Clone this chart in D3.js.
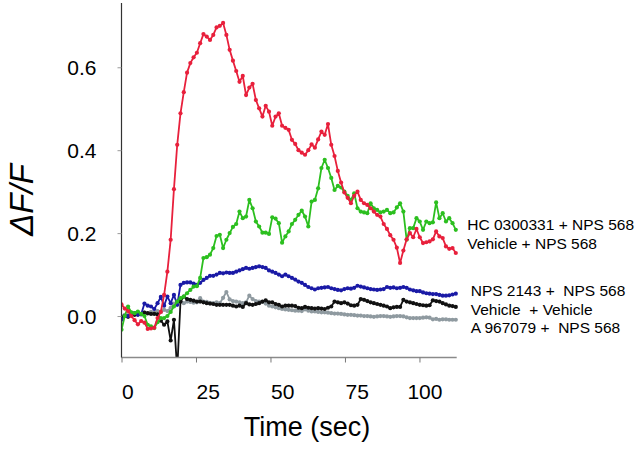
<!DOCTYPE html>
<html>
<head>
<meta charset="utf-8">
<script src="https://cdn.jsdelivr.net/npm/d3@7"></script>
<style>
  html, body { margin: 0; padding: 0; background: #fff; }
  svg { display: block; font-family: "Liberation Sans", Arial, sans-serif; }
  text { white-space: pre; }
</style>
</head>
<body>
<svg id="chart" width="640" height="450"></svg>
<script>
// ---- data ----
const sampleInterval = 1.1; // seconds between samples
const xTicks = [0, 25, 50, 75, 100];
const yTicks = [0.0, 0.2, 0.4, 0.6];
const yTickLabels = ["0.0", "0.2", "0.4", "0.6"];

const seriesNames = ["A 967079 +  NPS 568", "Vehicle  + Vehicle", "NPS 2143 +  NPS 568", "HC 0300331 + NPS 568", "Vehicle + NPS 568"];

const grayValues = [0.0,0.003,0.002,0.005,0.004,0.006,0.005,0.008,0.006,0.01,0.008,0.012,0.01,0.015,0.012,0.02,0.03,0.035,0.035,0.031,
0.035,0.034,0.032,0.033,0.043,0.035,0.034,0.032,0.031,0.033,0.031,0.044,0.058,0.04,0.036,0.035,0.033,0.031,0.033,0.049,
0.041,0.036,0.035,0.034,0.03,0.025,0.023,0.021,0.019,0.017,0.016,0.015,0.014,0.013,0.013,0.012,0.016,0.013,0.011,0.011,
0.01,0.009,0.009,0.008,0.007,0.006,0.006,0.005,0.004,0.003,0.003,0.002,0.001,0.001,0.0,0.0,-0.001,-0.002,-0.001,0.0,
0.0,-0.001,-0.002,-0.001,0.0,0.0,-0.001,-0.003,-0.005,-0.005,-0.005,-0.005,-0.004,-0.003,-0.004,-0.008,-0.007,-0.009,-0.008,-0.008,
-0.009,-0.009,-0.009];

const blackValues = [-0.003,0.0,-0.002,0.002,0.003,0.004,0.005,0.008,0.007,0.005,0.005,0.004,-0.011,-0.021,-0.013,-0.059,-0.009,-0.13,0.035,0.047,
0.041,0.039,0.037,0.035,0.035,0.033,0.031,0.03,0.029,0.027,0.027,0.027,0.027,0.027,0.025,0.023,0.025,0.022,0.031,0.028,
0.027,0.029,0.031,0.035,0.038,0.033,0.033,0.029,0.027,0.023,0.025,0.025,0.025,0.024,0.02,0.019,0.022,0.02,0.019,0.018,
0.019,0.018,0.017,0.02,0.023,0.035,0.033,0.031,0.033,0.03,0.026,0.025,0.027,0.041,0.039,0.036,0.033,0.031,0.029,0.027,
0.025,0.023,0.019,0.021,0.022,0.022,0.039,0.035,0.033,0.031,0.029,0.027,0.026,0.025,0.026,0.038,0.036,0.035,0.031,0.028,
0.025,0.024,0.022];

const blueValues = [-0.009,0.0,0.0,0.005,0.007,0.003,0.004,0.03,0.025,0.023,0.017,0.031,0.046,0.025,0.047,0.031,0.051,0.027,0.075,0.08,
0.081,0.081,0.078,0.075,0.08,0.087,0.092,0.097,0.097,0.1,0.104,0.103,0.105,0.104,0.104,0.107,0.11,0.113,0.116,0.114,
0.116,0.118,0.12,0.118,0.116,0.11,0.107,0.104,0.1,0.096,0.1,0.096,0.092,0.088,0.083,0.08,0.075,0.07,0.067,0.064,
0.067,0.068,0.069,0.07,0.067,0.065,0.063,0.062,0.065,0.067,0.066,0.068,0.073,0.071,0.069,0.067,0.065,0.064,0.063,0.064,
0.065,0.07,0.068,0.069,0.067,0.068,0.07,0.068,0.064,0.062,0.06,0.06,0.057,0.055,0.054,0.053,0.053,0.051,0.049,0.049,
0.05,0.052,0.054];

const greenValues = [-0.033,0.0,0.023,0.009,0.007,0.011,0.005,0.0,-0.021,-0.025,-0.029,-0.015,-0.005,-0.005,0.0,0.01,0.023,0.035,0.043,0.047,
0.055,0.063,0.071,0.072,0.092,0.14,0.142,0.148,0.164,0.193,0.196,0.164,0.184,0.2,0.215,0.222,0.252,0.236,0.24,0.28,
0.26,0.228,0.216,0.201,0.201,0.198,0.238,0.235,0.224,0.177,0.192,0.204,0.222,0.232,0.244,0.254,0.24,0.216,0.276,0.28,
0.308,0.357,0.377,0.357,0.333,0.304,0.314,0.31,0.3,0.29,0.28,0.296,0.26,0.252,0.25,0.248,0.272,0.26,0.256,0.25,
0.252,0.256,0.248,0.25,0.262,0.272,0.252,0.184,0.212,0.212,0.236,0.228,0.208,0.228,0.224,0.226,0.274,0.236,0.248,0.228,
0.236,0.224,0.208];

const redValues = [0.028,0.018,0.012,0.0,-0.01,-0.02,-0.012,-0.016,-0.031,-0.03,-0.028,-0.005,0.01,0.051,0.107,0.184,0.306,0.413,0.489,0.54,
0.587,0.61,0.624,0.635,0.658,0.68,0.674,0.666,0.678,0.696,0.7,0.707,0.678,0.642,0.616,0.591,0.565,0.579,0.533,0.551,
0.56,0.521,0.501,0.481,0.507,0.493,0.459,0.481,0.489,0.459,0.454,0.449,0.425,0.415,0.4,0.394,0.389,0.4,0.414,0.406,
0.426,0.445,0.437,0.463,0.413,0.386,0.35,0.322,0.298,0.285,0.272,0.29,0.3,0.28,0.272,0.268,0.26,0.252,0.244,0.24,
0.222,0.21,0.195,0.184,0.165,0.128,0.158,0.185,0.2,0.19,0.21,0.19,0.176,0.178,0.18,0.185,0.204,0.192,0.188,0.168,
0.162,0.164,0.152];

// ---- layout ----
const svg = d3.select("#chart");
const colors = ["#8f9aa0", "#111111", "#1a1aa6", "#2cbf1f", "#e8203c"];
const allSeries = [grayValues, blackValues, blueValues, greenValues, redValues];

const x = d3.scaleLinear().domain([0, 112.5]).range([121.5, 456.7]);
const y = d3.scaleLinear().domain([-0.1, 0.755]).range([357.5, 3]);

svg.append("defs").append("clipPath").attr("id", "plotclip")
  .append("rect").attr("x", x(0)).attr("y", y(0.755)).attr("width", x(112.5) - x(0) + 4).attr("height", y(-0.1) - y(0.755));

// series
const plot = svg.append("g").attr("clip-path", "url(#plotclip)");
const line = d3.line().x((d, i) => x(i * sampleInterval)).y(d => y(d));
allSeries.forEach((vals, k) => {
  const g = plot.append("g");
  g.append("path").datum(vals).attr("d", line)
    .attr("fill", "none").attr("stroke", colors[k]).attr("stroke-width", 1.8).attr("stroke-linejoin", "round");
  g.selectAll("circle").data(vals).join("circle")
    .attr("cx", (d, i) => x(i * sampleInterval)).attr("cy", d => y(d))
    .attr("r", 2.1).attr("fill", colors[k]);
});

// axes
const xAxis = d3.axisBottom(x).tickValues(xTicks).tickSize(5).tickFormat("");
const gx = svg.append("g").attr("transform", `translate(0,${y(-0.1)})`).call(xAxis);
gx.select(".domain").attr("stroke", "#8a8a8a").attr("stroke-width", 1.3).attr("d", `M${x(0)},0H${x(112.5)}`);
gx.selectAll(".tick line").attr("stroke", "#777");

gx.selectAll(".tick").append("text")
  .attr("fill", "#000").attr("font-size", 21)
  .attr("y", 41)
  .attr("text-anchor", d => String(d).length < 3 ? "start" : "middle")
  .attr("x", d => String(d).length < 3 ? 0 : 5)
  .text(d => String(d));

const yAxis = d3.axisLeft(y).tickValues(yTicks).tickSize(4).tickFormat("");
const gy = svg.append("g").attr("transform", `translate(${x(0)},0)`).call(yAxis);
gy.select(".domain").attr("stroke", "#333").attr("stroke-width", 1.2).attr("d", `M0,${y(0.755)}V${y(-0.1)}`);
gy.selectAll(".tick line").attr("stroke", "#999");
gy.selectAll(".tick").append("text")
  .attr("fill", "#000").attr("font-size", 21)
  .attr("x", -25).attr("dy", "0.36em").attr("text-anchor", "end")
  .text((d, i) => yTickLabels[i]);

// axis titles
svg.append("text").attr("transform", "translate(33,200) rotate(-90)")
  .attr("text-anchor", "middle").attr("font-size", 33).attr("font-style", "italic")
  .text("ΔF/F");
svg.append("text").attr("x", 307).attr("y", 436)
  .attr("text-anchor", "middle").attr("font-size", 27)
  .text("Time (sec)");

// legend labels (beside line ends)
const legendPos = [[470.7, 333.3], [470.7, 315], [470.7, 296], [467.3, 230], [467.3, 249.3]];
seriesNames.forEach((name, k) => {
  svg.append("text").attr("x", legendPos[k][0]).attr("y", legendPos[k][1])
    .attr("font-size", 15.5).attr("fill", "#000").text(name);
});
</script>
</body>
</html>
